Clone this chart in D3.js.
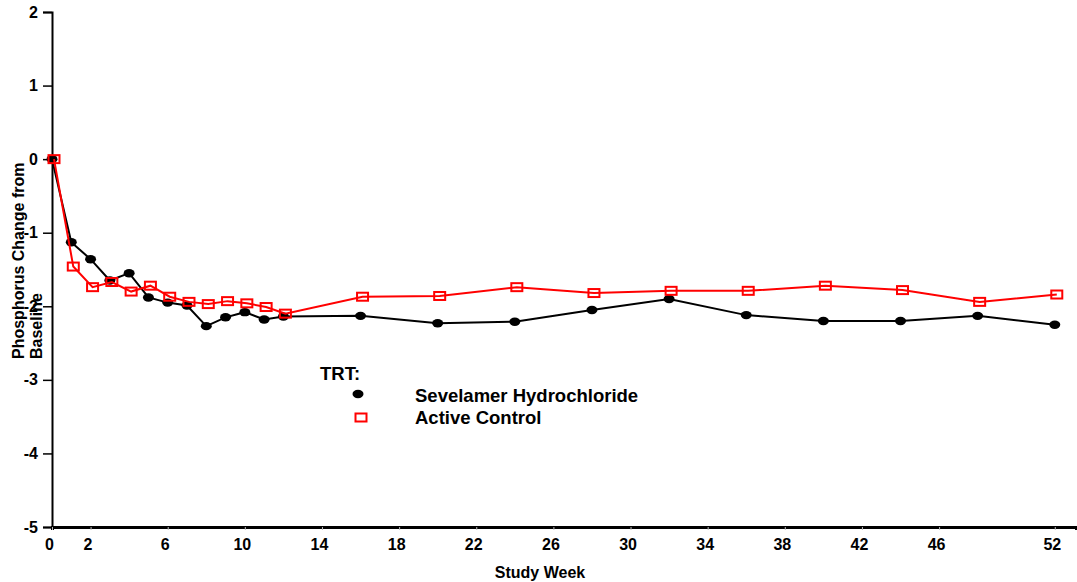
<!DOCTYPE html>
<html><head><meta charset="utf-8">
<script src="https://cdn.jsdelivr.net/npm/d3@7"></script>
<style>body{margin:0;background:#fff} text{font-family:"Liberation Sans",Arial,sans-serif;font-weight:bold}</style>
</head><body><svg id="c" width="1077" height="582"></svg>
<script>
const weeks = [0,1,2,3,4,5,6,7,8,9,10,11,12,16,20,24,28,32,36,40,44,48,52];
const sevelamer = [0,-1.13,-1.36,-1.65,-1.55,-1.88,-1.95,-1.99,-2.27,-2.15,-2.08,-2.18,-2.14,-2.13,-2.23,-2.21,-2.05,-1.90,-2.12,-2.20,-2.20,-2.13,-2.25];
const activeControl = [0,-1.46,-1.74,-1.67,-1.80,-1.72,-1.87,-1.94,-1.97,-1.93,-1.96,-2.01,-2.10,-1.87,-1.86,-1.74,-1.82,-1.79,-1.79,-1.72,-1.78,-1.94,-1.84];
const xTicks = [0,2,6,10,14,18,22,26,30,34,38,42,46,52];
const yTicks = [2,1,0,-1,-2,-3,-4,-5];
const seriesNames = ["Sevelamer Hydrochloride","Active Control"];
const legendTitle = "TRT:";
const xTitle = "Study Week";
const yTitleLines = ["Phosphorus Change from","Baseline"];

const svg = d3.select("#c");
const x = d3.scaleLinear().domain([0,53.1]).range([52,1076]);
const y = d3.scaleLinear().domain([-5,2]).range([527,12]);

// axes
const gy = svg.append("g").attr("transform","translate(52,0)")
  .call(d3.axisLeft(y).tickValues(yTicks).tickSize(9).tickPadding(5).tickFormat(d=>String(d)));
gy.select(".domain").attr("stroke","#000").attr("stroke-width",2);
gy.selectAll(".tick line").attr("stroke","#000").attr("stroke-width",1.5);
gy.selectAll(".tick text").attr("fill","#000").style("font-size","16px");

const gx = svg.append("g").attr("transform","translate(0,527)")
  .call(d3.axisBottom(x).tickValues(xTicks).tickSize(3).tickPadding(9).tickFormat(d=>String(d)));
gx.select(".domain").attr("stroke","#000").attr("stroke-width",3);
gx.selectAll(".tick line").attr("stroke","#bbb").attr("stroke-width",1);
gx.selectAll(".tick text").attr("fill","#000").attr("dx",-3).style("font-size","16px");

svg.append("text").attr("x",540).attr("y",578).attr("text-anchor","middle")
  .style("font-size","16px").text(xTitle);

const yt = svg.append("text").attr("transform","translate(24,359) rotate(-90)")
  .style("font-size","16px");
yTitleLines.forEach((t,i)=> yt.append("tspan").attr("x",0).attr("y",i*18).text(t));

// series
const dataS = weeks.map((w,i)=>({w, v: sevelamer[i]}));
const dataA = weeks.map((w,i)=>({w, v: activeControl[i]}));
const dodge = 2;

svg.append("path").datum(dataS)
  .attr("fill","none").attr("stroke","#000").attr("stroke-width",2)
  .attr("d", d3.line().x(d=>x(d.w)).y(d=>y(d.v)));
svg.append("g").selectAll("ellipse").data(dataS).join("ellipse")
  .attr("cx",d=>x(d.w)).attr("cy",d=>y(d.v)).attr("rx",5.5).attr("ry",4.2).attr("fill","#000");

svg.append("path").datum(dataA)
  .attr("fill","none").attr("stroke","#f00").attr("stroke-width",2)
  .attr("d", d3.line().x(d=>x(d.w)+dodge).y(d=>y(d.v)));
svg.append("g").selectAll("rect").data(dataA).join("rect")
  .attr("x",d=>x(d.w)+dodge-5.5).attr("y",d=>y(d.v)-4).attr("width",11).attr("height",8)
  .attr("fill","none").attr("stroke","#f00").attr("stroke-width",2);

// legend
svg.append("text").attr("x",320).attr("y",380).style("font-size","18.5px").text(legendTitle);
svg.append("ellipse").attr("cx",358).attr("cy",394).attr("rx",5.5).attr("ry",4.2).attr("fill","#000");
svg.append("text").attr("x",415).attr("y",402).style("font-size","18.5px").text(seriesNames[0]);
svg.append("rect").attr("x",361-5.5).attr("y",417.5-4).attr("width",11).attr("height",8)
  .attr("fill","none").attr("stroke","#f00").attr("stroke-width",2);
svg.append("text").attr("x",415).attr("y",424).style("font-size","18.5px").text(seriesNames[1]);
</script>
</body></html>
